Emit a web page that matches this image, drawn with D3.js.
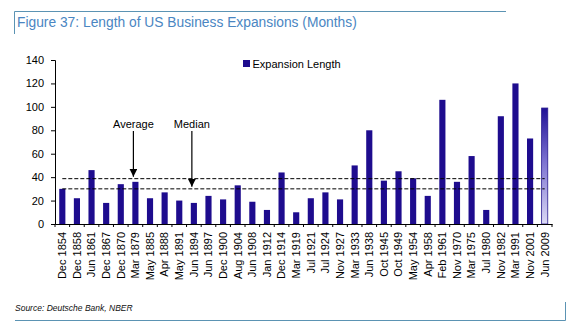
<!DOCTYPE html>
<meta charset="utf-8">
<script src="https://d3js.org/d3.v7.min.js"></script>
<style>
  body { margin: 0; background: #fff; }
  text { font-family: "Liberation Sans", Arial, sans-serif; }
</style>
<div id="chart"></div>
<script>
// expansion start dates (troughs) and length in months
const periods = ["Dec 1854", "Dec 1858", "Jun 1861", "Dec 1867", "Dec 1870", "Mar 1879", "May 1885",
  "Apr 1888", "May 1891", "Jun 1894", "Jun 1897", "Dec 1900", "Aug 1904", "Jun 1908", "Jan 1912",
  "Dec 1914", "Mar 1919", "Jul 1921", "Jul 1924", "Nov 1927", "Mar 1933", "Jun 1938", "Oct 1945",
  "Oct 1949", "May 1954", "Apr 1958", "Feb 1961", "Nov 1970", "Mar 1975", "Jul 1980", "Nov 1982",
  "Mar 1991", "Nov 2001", "Jun 2009"];
const months = [30, 22, 46, 18, 34, 36, 22, 27, 20, 18, 24, 21, 33, 19, 12, 44, 10, 22, 27, 21,
  50, 80, 37, 45, 39, 24, 106, 36, 58, 12, 92, 120, 73, 99];
const yTicks = [0, 20, 40, 60, 80, 100, 120, 140];

// reference lines and where their labels sit
const refLines = [
  {name: "Average", value: 38.7, at: "Mar 1879"},
  {name: "Median", value: 30, at: "Jun 1894"}
];

const W = 587, H = 333;
const margin = {top: 60, left: 55, right: 35, bottom: 109};

const svg = d3.select("#chart").append("svg")
  .attr("width", W).attr("height", H);

// title frame
const frame = "#5b93b3";
svg.append("path")
  .attr("d", "M14.5,34 V11.5 H506")
  .attr("fill", "none").attr("stroke", frame).attr("stroke-width", 1);
svg.append("text")
  .attr("x", 17).attr("y", 27)
  .attr("fill", "#4a86c2")
  .style("font-size", "13.8px")
  .text("Figure 37: Length of US Business Expansions (Months)");

// bottom frame
svg.append("path")
  .attr("d", "M15,320.5 H565.5 V302")
  .attr("fill", "none").attr("stroke", frame).attr("stroke-width", 1);
svg.append("text")
  .attr("x", 15).attr("y", 310.5)
  .style("font-size", "8.5px").style("font-style", "italic")
  .attr("fill", "#111")
  .text("Source: Deutsche Bank, NBER");

const x = d3.scaleBand().domain(periods).range([margin.left, W - margin.right]).padding(0);
const y = d3.scaleLinear().domain([0, 140]).range([H - margin.bottom, margin.top]);

const defs = svg.append("defs");
const grad = defs.append("linearGradient")
  .attr("id", "lastbar").attr("x1", 0).attr("y1", 0).attr("x2", 0).attr("y2", 1);
grad.append("stop").attr("offset", "0%").attr("stop-color", "#1f1096");
grad.append("stop").attr("offset", "45%").attr("stop-color", "#7a70cf");
grad.append("stop").attr("offset", "100%").attr("stop-color", "#dcdaf5");

const barW = x.bandwidth() * 0.42;
const barColor = "#1e0c8e";

svg.selectAll("rect.bar")
  .data(periods)
  .join("rect")
  .attr("class", "bar")
  .attr("x", d => x(d) + (x.bandwidth() - barW) / 2)
  .attr("y", (d, i) => y(months[i]))
  .attr("width", barW)
  .attr("height", (d, i) => y(0) - y(months[i]))
  .attr("fill", (d, i) => i === periods.length - 1 ? "url(#lastbar)" : barColor)
  .attr("stroke", (d, i) => i === periods.length - 1 ? "#2a1c8f" : "none")
  .attr("stroke-width", 0.8);

// dashed reference lines from first to last bar centre
const cx = d => x(d) + x.bandwidth() / 2;
svg.selectAll("line.ref")
  .data(refLines)
  .join("line")
  .attr("class", "ref")
  .attr("x1", cx(periods[0]))
  .attr("x2", cx(periods[periods.length - 1]))
  .attr("y1", d => y(d.value)).attr("y2", d => y(d.value))
  .attr("stroke", "#000").attr("stroke-width", 1)
  .attr("stroke-dasharray", "4,2");

// labels with arrows
defs.append("marker")
  .attr("id", "arrow").attr("viewBox", "0 0 10 10")
  .attr("refX", 10).attr("refY", 5)
  .attr("markerWidth", 8).attr("markerHeight", 8)
  .attr("markerUnits", "userSpaceOnUse")
  .attr("orient", "auto")
  .append("path").attr("d", "M0,0 L10,5 L0,10 Z").attr("fill", "#000");

const ann = svg.selectAll("g.ann").data(refLines).join("g").attr("class", "ann");
ann.append("text")
  .attr("x", d => cx(d.at) - 2)
  .attr("y", 128)
  .attr("text-anchor", "middle")
  .style("font-size", "11px")
  .text(d => d.name);
ann.append("line")
  .attr("x1", d => cx(d.at) - 2).attr("x2", d => cx(d.at) - 2)
  .attr("y1", 131)
  .attr("y2", d => y(d.value) - 2)
  .attr("stroke", "#000").attr("stroke-width", 1.2)
  .attr("marker-end", "url(#arrow)");

// y axis
const yAxis = svg.append("g")
  .attr("transform", `translate(${margin.left},0)`)
  .call(d3.axisLeft(y).tickValues(yTicks).tickSize(4).tickPadding(7));
yAxis.selectAll("text").style("font-size", "11px").attr("fill", "#000");
yAxis.selectAll("line, path").attr("stroke", "#000");

// x axis: labels at centres, ticks at category boundaries
const xAxis = svg.append("g")
  .attr("transform", `translate(0,${y(0)})`)
  .call(d3.axisBottom(x).tickSize(0).tickPadding(0));
xAxis.select(".domain").attr("stroke", "#000");
xAxis.selectAll("text")
  .style("font-size", "11px").attr("fill", "#000")
  .attr("text-anchor", "end")
  .attr("transform", "rotate(-90)")
  .attr("x", -8).attr("y", 0).attr("dy", "0.35em");
const bounds = periods.map(d => x(d)).concat([x.range()[1]]);
xAxis.selectAll("line.btick")
  .data(bounds)
  .join("line")
  .attr("class", "btick")
  .attr("x1", d => d).attr("x2", d => d)
  .attr("y1", 0).attr("y2", 3)
  .attr("stroke", "#000");

// legend
const lg = svg.append("g").attr("transform", "translate(243,60)");
lg.append("rect").attr("width", 7).attr("height", 7).attr("fill", barColor);
lg.append("text").attr("x", 9.5).attr("y", 7.5)
  .style("font-size", "11px").text("Expansion Length");
</script>
